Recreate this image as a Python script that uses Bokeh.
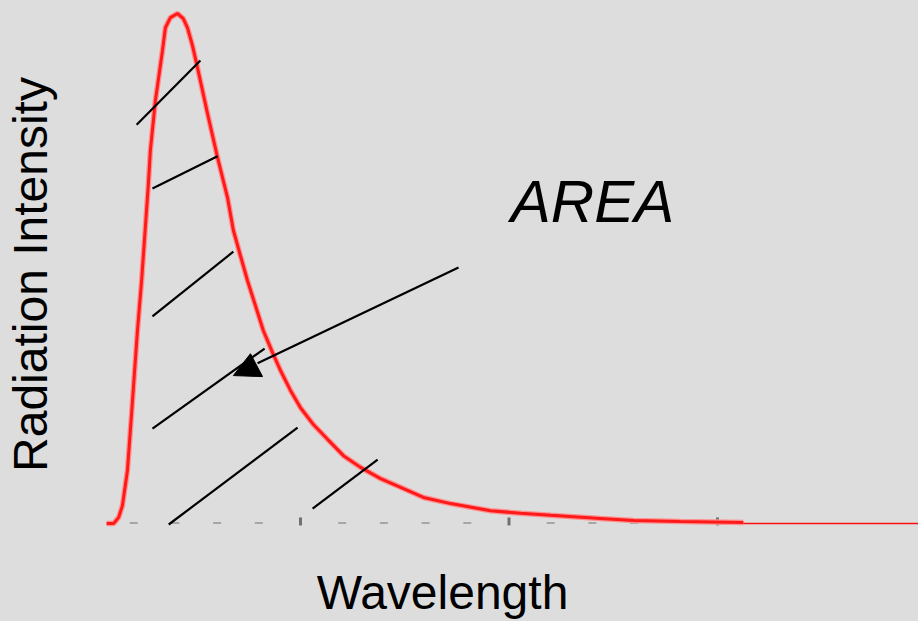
from bokeh.plotting import figure
from bokeh.models import Range1d, Label
from bokeh.embed import file_html
from bokeh.resources import INLINE
import math

BG = "#dddddd"

# Radiation intensity curve (wavelength in arbitrary units, intensity as % of peak)
wavelength = [0.35, 0.52, 0.64, 0.73, 0.85, 0.95, 1.09, 1.19, 1.35, 1.40, 1.52, 1.69,
              1.76, 1.88, 2.05, 2.19, 2.29, 2.41, 2.53, 2.77, 3.01, 3.25, 3.39, 3.56,
              3.73, 3.92, 4.11, 4.33, 4.52, 4.76, 5.00, 5.31, 5.65, 6.03, 6.44, 6.92,
              7.40, 7.95, 8.60, 9.56, 10.28, 11.00, 12.19, 12.99, 14.11, 15.62]
intensity = [0.0, 0.0, 1.2, 3.5, 10.4, 21.6, 37.8, 47.6, 66.3, 73.1, 82.9, 92.7,
             97.2, 99.2, 100.0, 99.0, 97.2, 93.7, 89.4, 80.4, 71.8, 63.9, 57.5, 52.5,
             47.6, 42.7, 37.8, 33.5, 30.0, 26.1, 22.7, 19.4, 16.5, 13.3, 11.0, 8.8,
             7.1, 5.1, 3.9, 2.5, 2.0, 1.6, 1.0, 0.6, 0.4, 0.2]
tail_x = [15.0, 19.9]
tail_y = [0.0, 0.0]

minor_ticks = [1, 2, 3, 4, 6, 7, 8, 9, 11, 12, 13, 14]
major_ticks = [5, 10, 15]

# hatch lines (annotation decoration)
hatch_x0 = [1.07, 1.45, 1.45, 1.45, 1.84, 5.29]
hatch_y0 = [78.2, 65.7, 40.6, 18.6, -0.2, 2.9]
hatch_x1 = [2.60, 3.01, 3.39, 4.14, 4.93, 6.85]
hatch_y1 = [90.8, 72.0, 53.3, 34.3, 18.8, 12.5]

p = figure(width=918, height=621, output_backend="svg", toolbar_location=None,
           x_range=Range1d(-2.194, 19.82), y_range=Range1d(-19.22, 102.55),
           min_border=0, x_axis_type=None, y_axis_type=None)
p.background_fill_color = BG
p.border_fill_color = BG
p.outline_line_color = None
p.xgrid.visible = False
p.ygrid.visible = False

# baseline tick marks
p.scatter(minor_ticks, [0.1] * len(minor_ticks), marker="dash", size=8,
          line_color="#a6a6a6", line_width=2)
p.scatter(major_ticks, [0.4] * len(major_ticks), marker="dash", size=8,
          angle=math.pi / 2, line_color="#707070", line_width=3)

# curve
p.line(tail_x, tail_y, line_color="#ff1010", line_width=1.5)
p.line(wavelength, intensity, line_color="#ff9090", line_width=5.5)
p.line(wavelength, intensity, line_color="#ff1a1a", line_width=3)

# hatching
p.segment(hatch_x0, hatch_y0, hatch_x1, hatch_y1, line_color="black", line_width=2.2)

# arrow
p.segment([8.79], [50.2], [3.97], [31.4], line_color="black", line_width=2.2)
p.patch([3.80, 3.39, 4.09], [33.3, 29.0, 28.8], fill_color="black", line_color="black")

# texts
font = "Liberation Sans"
p.add_layout(Label(x=442, y=29, x_units="screen", y_units="screen", text="Wavelength",
                   text_font=font, text_font_size="48px", text_color="black",
                   text_align="center", text_baseline="alphabetic"))
p.add_layout(Label(x=30, y=347, x_units="screen", y_units="screen",
                   text="Radiation Intensity", angle=math.pi / 2,
                   text_font=font, text_font_size="48px", text_color="black",
                   text_align="center", text_baseline="alphabetic"))
p.add_layout(Label(x=592, y=420, x_units="screen", y_units="screen", text="AREA",
                   text_font=font, text_font_size="60px", text_font_style="italic",
                   text_color="black", text_align="center", text_baseline="alphabetic"))

html = file_html(p, INLINE)
html = html.replace("<head>", "<head><style>html,body{background:#dddddd;}</style>", 1)
open("out.html", "w").write(html)
